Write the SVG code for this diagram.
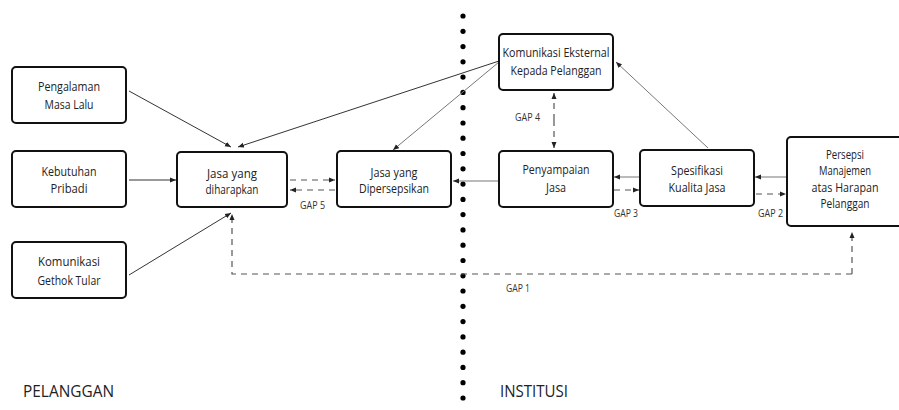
<svg xmlns="http://www.w3.org/2000/svg" width="899" height="410" viewBox="0 0 899 410">
<style>
.box{fill:#fff;stroke:#111;stroke-width:2}
.t{font-family:"Open Sans","Liberation Sans",sans-serif;font-size:12px;fill:#222;text-anchor:middle}
.g{font-family:"Open Sans","Liberation Sans",sans-serif;font-size:10.5px;fill:#333;text-anchor:start}
.big{font-family:"Open Sans","Liberation Sans",sans-serif;font-size:16px;fill:#222}
.s{fill:none;stroke:#333;stroke-width:1}
.sl{fill:none;stroke:#777;stroke-width:1}
.d{fill:none;stroke:#555;stroke-width:1.2;stroke-dasharray:6 5}
</style>
<defs>
<marker id="a" markerUnits="userSpaceOnUse" markerWidth="6" markerHeight="6" refX="6" refY="3" orient="auto"><path d="M0,0.5 L6,3 L0,5.5 z" fill="#222"/></marker>
</defs>
<rect width="899" height="410" fill="#fff"/>
<g id="divider" fill="#000">
<circle cx="463" cy="16" r="2.6"/><circle cx="463" cy="31.3" r="2.6"/><circle cx="463" cy="46.6" r="2.6"/><circle cx="463" cy="61.8" r="2.6"/><circle cx="463" cy="77.1" r="2.6"/><circle cx="463" cy="92.4" r="2.6"/><circle cx="463" cy="107.7" r="2.6"/><circle cx="463" cy="123" r="2.6"/><circle cx="463" cy="138.2" r="2.6"/><circle cx="463" cy="153.5" r="2.6"/><circle cx="463" cy="168.8" r="2.6"/><circle cx="463" cy="184.1" r="2.6"/><circle cx="463" cy="199.4" r="2.6"/><circle cx="463" cy="214.6" r="2.6"/><circle cx="463" cy="229.9" r="2.6"/><circle cx="463" cy="245.2" r="2.6"/><circle cx="463" cy="260.5" r="2.6"/><circle cx="463" cy="275.8" r="2.6"/><circle cx="463" cy="291" r="2.6"/><circle cx="463" cy="306.3" r="2.6"/><circle cx="463" cy="321.6" r="2.6"/><circle cx="463" cy="336.9" r="2.6"/><circle cx="463" cy="352.2" r="2.6"/><circle cx="463" cy="367.4" r="2.6"/><circle cx="463" cy="382.7" r="2.6"/><circle cx="463" cy="398" r="2.6"/><circle cx="463" cy="413.3" r="2.6"/>
</g>
<g id="connectors">
<line class="s" x1="129" y1="91" x2="231" y2="147" marker-end="url(#a)"/>
<line class="s" x1="499" y1="61" x2="238" y2="147" marker-end="url(#a)"/>
<line class="s" x1="129" y1="180" x2="176" y2="180" marker-end="url(#a)"/>
<line class="s" x1="129" y1="275" x2="231" y2="213" marker-end="url(#a)"/>
<line class="d" x1="290" y1="180" x2="335" y2="180" marker-end="url(#a)"/>
<line class="d" x1="335" y1="190" x2="290" y2="190" marker-end="url(#a)"/>
<line class="sl" x1="499" y1="62" x2="393" y2="150" marker-end="url(#a)"/>
<line class="sl" x1="499" y1="181" x2="453" y2="181" marker-end="url(#a)"/>
<line class="d" x1="554" y1="120" x2="554" y2="93" marker-end="url(#a)"/>
<line class="d" x1="554" y1="120" x2="554" y2="148" marker-end="url(#a)"/>
<line class="sl" x1="640" y1="177" x2="614" y2="177" marker-end="url(#a)"/>
<line class="d" x1="614" y1="190" x2="639" y2="190" marker-end="url(#a)"/>
<line class="sl" x1="787" y1="177" x2="755" y2="177" marker-end="url(#a)"/>
<line class="d" x1="756" y1="194" x2="786" y2="194" marker-end="url(#a)"/>
<line class="sl" x1="708" y1="148" x2="616" y2="62" marker-end="url(#a)"/>
<path class="d" d="M852,274 V232" marker-end="url(#a)"/>
<path class="d" d="M852,274 H232 V214" marker-end="url(#a)"/>
<text class="g" x="300" y="209" textLength="25" lengthAdjust="spacingAndGlyphs">GAP 5</text>
<text class="g" x="515" y="121" textLength="25" lengthAdjust="spacingAndGlyphs">GAP 4</text>
<text class="g" x="614" y="217" textLength="24" lengthAdjust="spacingAndGlyphs">GAP 3</text>
<text class="g" x="758" y="217" textLength="25" lengthAdjust="spacingAndGlyphs">GAP 2</text>
<text class="g" x="506" y="292" textLength="24" lengthAdjust="spacingAndGlyphs">GAP 1</text>
</g>
<g id="pengalaman">
<rect class="box" x="12" y="67" width="114" height="56" rx="4"/>
<text class="t" x="69" y="91" textLength="62" lengthAdjust="spacingAndGlyphs">Pengalaman</text>
<text class="t" x="69" y="109" textLength="49" lengthAdjust="spacingAndGlyphs">Masa Lalu</text>
</g>
<g id="kebutuhan">
<rect class="box" x="12" y="151" width="114" height="56" rx="4"/>
<text class="t" x="69" y="176" textLength="55" lengthAdjust="spacingAndGlyphs">Kebutuhan</text>
<text class="t" x="69" y="193" textLength="37" lengthAdjust="spacingAndGlyphs">Pribadi</text>
</g>
<g id="gethok">
<rect class="box" x="12" y="242" width="114" height="56" rx="4"/>
<text class="t" x="69" y="266" textLength="62" lengthAdjust="spacingAndGlyphs">Komunikasi</text>
<text class="t" x="69" y="285" textLength="63" lengthAdjust="spacingAndGlyphs">Gethok Tular</text>
</g>
<g id="diharapkan">
<rect class="box" x="177" y="152" width="110" height="55" rx="4"/>
<text class="t" x="232" y="178" textLength="50" lengthAdjust="spacingAndGlyphs">Jasa yang</text>
<text class="t" x="232" y="194" textLength="53" lengthAdjust="spacingAndGlyphs">diharapkan</text>
</g>
<g id="dipersepsikan">
<rect class="box" x="337" y="151" width="114" height="56" rx="4"/>
<text class="t" x="394" y="177" textLength="47" lengthAdjust="spacingAndGlyphs">Jasa yang</text>
<text class="t" x="394" y="193" textLength="70" lengthAdjust="spacingAndGlyphs">Dipersepsikan</text>
</g>
<g id="komeksternal">
<rect class="box" x="499" y="34" width="114" height="56" rx="4"/>
<text class="t" x="556" y="57" textLength="107" lengthAdjust="spacingAndGlyphs">Komunikasi Eksternal</text>
<text class="t" x="556" y="75" textLength="91" lengthAdjust="spacingAndGlyphs">Kepada Pelanggan</text>
</g>
<g id="penyampaian">
<rect class="box" x="499" y="151" width="114" height="56" rx="4"/>
<text class="t" x="556" y="174" textLength="67" lengthAdjust="spacingAndGlyphs">Penyampaian</text>
<text class="t" x="556" y="192" textLength="20" lengthAdjust="spacingAndGlyphs">Jasa</text>
</g>
<g id="spesifikasi">
<rect class="box" x="640" y="150" width="114" height="56" rx="4"/>
<text class="t" x="697" y="175" textLength="52" lengthAdjust="spacingAndGlyphs">Spesifikasi</text>
<text class="t" x="697" y="192" textLength="57" lengthAdjust="spacingAndGlyphs">Kualita Jasa</text>
</g>
<g id="persepsi">
<rect class="box" x="787" y="137" width="118" height="89" rx="4"/>
<text class="t" x="845" y="159" textLength="38" lengthAdjust="spacingAndGlyphs">Persepsi</text>
<text class="t" x="845" y="175" textLength="52" lengthAdjust="spacingAndGlyphs">Manajemen</text>
<text class="t" x="845" y="192" textLength="67" lengthAdjust="spacingAndGlyphs">atas Harapan</text>
<text class="t" x="845" y="208" textLength="49" lengthAdjust="spacingAndGlyphs">Pelanggan</text>
</g>
<g id="labels">
<text class="big" x="23" y="397" textLength="91" lengthAdjust="spacingAndGlyphs">PELANGGAN</text>
<text class="big" x="500" y="397" textLength="68" lengthAdjust="spacingAndGlyphs">INSTITUSI</text>
</g>
</svg>
